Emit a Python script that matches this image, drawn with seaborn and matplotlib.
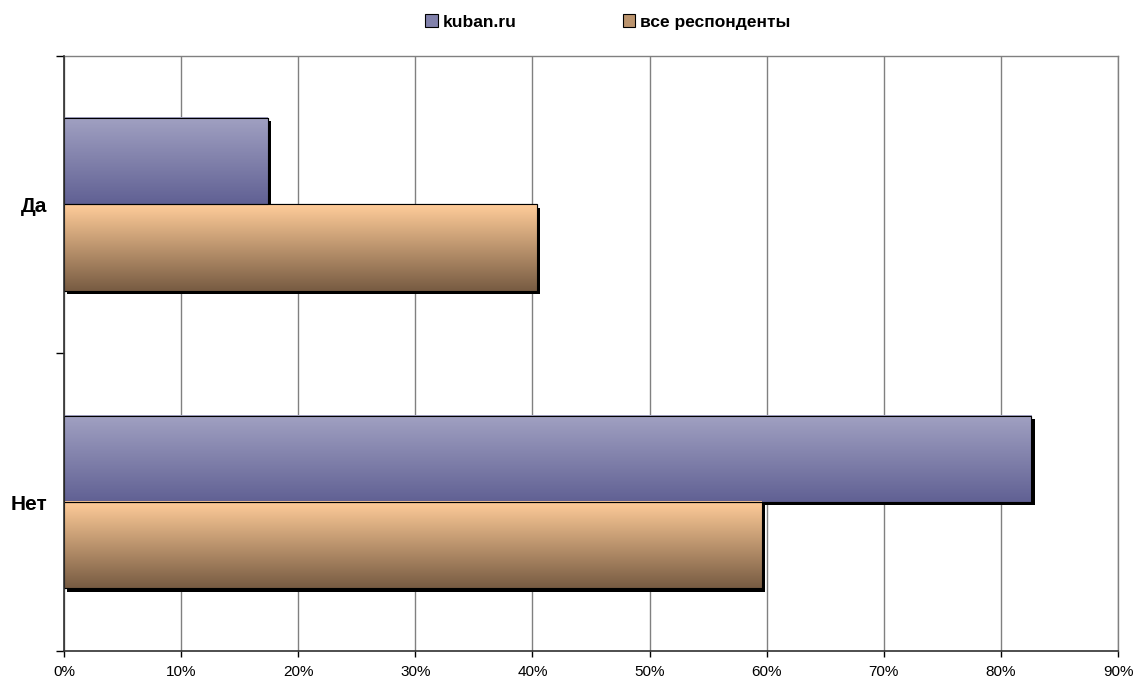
import numpy as np
import pandas as pd
import matplotlib
matplotlib.use("Agg")
import matplotlib.pyplot as plt
import matplotlib.patheffects as pe
from matplotlib.patches import Patch, Rectangle
from matplotlib.ticker import PercentFormatter, FixedLocator
import seaborn as sns

categories = ["Да", "Нет"]
series = ["kuban.ru", "все респонденты"]
kuban = [0.174, 0.826]
all_resp = [0.404, 0.596]
xticks = [0, 0.1, 0.2, 0.3, 0.4, 0.5, 0.6, 0.7, 0.8, 0.9]

df = pd.DataFrame({
    "cat": categories * 2,
    "series": [series[0]] * 2 + [series[1]] * 2,
    "val": kuban + all_resp,
})

sns.set_theme(style="white")
plt.rcParams["font.family"] = ["Liberation Sans", "DejaVu Sans"]
plt.rcParams["text.color"] = "black"
plt.rcParams["xtick.color"] = "black"
plt.rcParams["ytick.color"] = "black"
plt.rcParams["axes.labelcolor"] = "black"

fig = plt.figure(figsize=(11.34, 6.84), dpi=100)
ax = fig.add_axes([64 / 1134, 33 / 684, 1054 / 1134, 595.5 / 684])

grad = {
    series[0]: ((0.63, 0.63, 0.76), (0.38, 0.38, 0.58)),
    series[1]: ((1.0, 0.80, 0.60), (0.47, 0.36, 0.26)),
}
mid = {k: tuple((a + b) / 2 for a, b in zip(*v)) for k, v in grad.items()}

sns.barplot(data=df, x="val", y="cat", hue="series", order=categories,
            hue_order=series, orient="h", width=0.58, gap=0,
            palette=[mid[s] for s in series], ax=ax, legend=False,
            edgecolor="black", linewidth=0.8)

for cont, s in zip(ax.containers, series):
    top, bot = grad[s]
    n = 64
    t = np.linspace(0, 1, n)[:, None]
    arr = (1 - t) * np.array(top)[None, :] + t * np.array(bot)[None, :]
    img = arr[:, None, :]
    for p in cont.patches:
        x0, y0 = p.get_x(), p.get_y()
        w, h = p.get_width(), p.get_height()
        p.set_path_effects([pe.SimplePatchShadow(offset=(2.4, -2.4), shadow_rgbFace="black", alpha=1.0), pe.Normal()])
        p.set_zorder(2)
        ax.imshow(img, extent=(x0, x0 + w, y0 + h, y0), origin="upper",
                  aspect="auto", zorder=2.5, interpolation="bilinear")
        ax.add_patch(Rectangle((x0, y0), w, h, fill=False, edgecolor="black",
                               linewidth=0.8, zorder=3))

ax.set_xlim(0, 0.9)
ax.set_ylim(1.5, -0.5)
ax.set_aspect("auto")

ax.xaxis.set_major_locator(FixedLocator(xticks))
ax.xaxis.set_major_formatter(PercentFormatter(1.0, decimals=0))
ax.grid(axis="x", color="#808080", linewidth=1.0)
ax.grid(axis="y", visible=False)
ax.set_axisbelow(True)

ax.set_yticks([0, 1])
ax.set_yticklabels(categories, fontsize=15, fontweight="bold")
ax.set_yticks([-0.5, 0.5, 1.5], minor=True)
ax.tick_params(axis="y", which="major", length=0, pad=12)
ax.tick_params(axis="y", which="minor", length=6, width=1, color="black", direction="out", left=True)
ax.tick_params(axis="x", which="major", length=4, width=1, color="black", direction="out",
               labelsize=11, bottom=True, pad=6)
ax.set_xlabel("")
ax.set_ylabel("")

for side in ["top", "right"]:
    ax.spines[side].set_visible(True)
    ax.spines[side].set_color("#808080")
    ax.spines[side].set_linewidth(1.0)
for side in ["left", "bottom"]:
    ax.spines[side].set_color("#303030")
    ax.spines[side].set_linewidth(1.2)
    ax.spines[side].set_zorder(4)

handles = [Patch(facecolor=mid[s], edgecolor="black", linewidth=0.8) for s in series]
fig.legend(handles, series, loc="center", bbox_to_anchor=(0.536, (684 - 22) / 684),
           ncol=2, frameon=False, prop={"weight": "bold", "size": 12.5},
           handlelength=0.7, handleheight=0.7, handletextpad=0.3, columnspacing=6.1)

fig.savefig("out.png", dpi=100)
